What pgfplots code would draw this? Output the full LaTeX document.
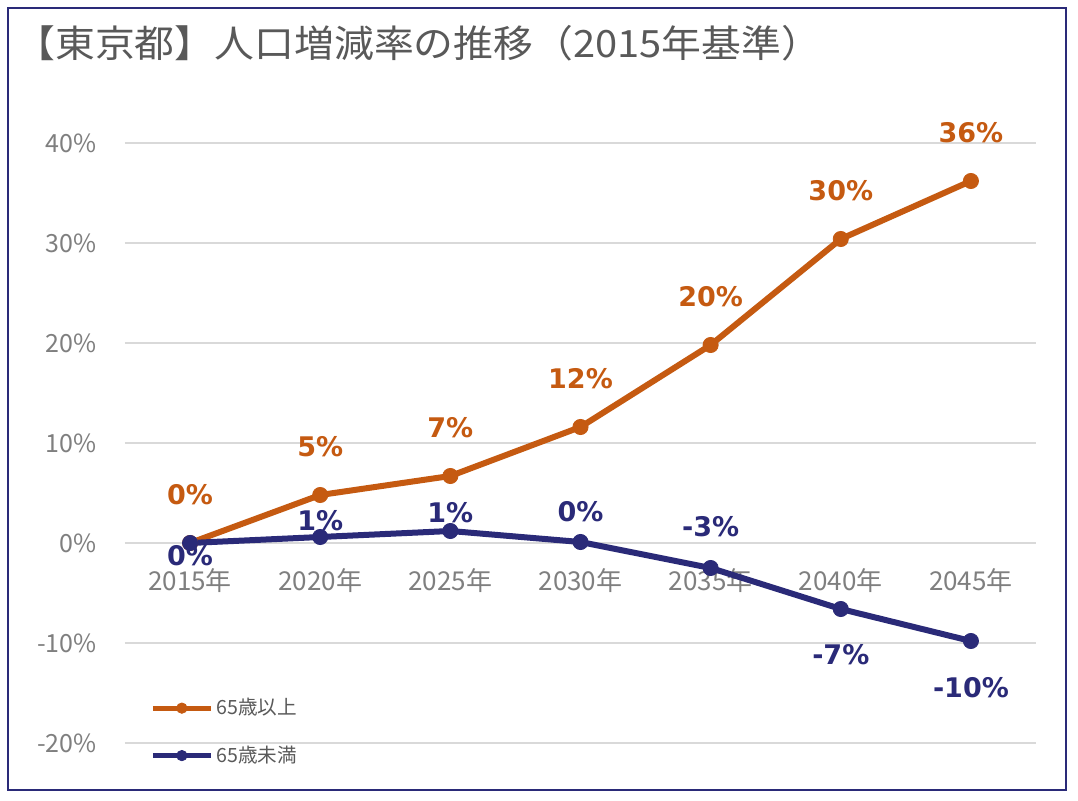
\documentclass[border=0pt]{standalone}
\usepackage{fontspec}
\usepackage{pgfplots}
\pgfplotsset{compat=1.18}
\usepackage{pgfplotstable}
\newfontfamily\jp{Noto Sans CJK JP}
\newfontfamily\dv{DejaVu Sans}
\definecolor{orng}{HTML}{C55A11}
\definecolor{navy}{HTML}{2A2A78}
\definecolor{tickgray}{HTML}{7F7F7F}
\definecolor{titlegray}{HTML}{595959}
\definecolor{gridgray}{HTML}{D9D9D9}

\pgfplotstableread{
x y dy lab
0 0 24 0
1 4.8 24 5
2 6.7 24 7
3 11.6 24 12
4 19.8 24 20
5 30.4 24 30
6 36.2 24 36
}\olderdata

\pgfplotstableread{
x y dy lab
0 0 -6.5 0
1 0.6 8 1
2 1.2 9 1
3 0.1 15 0
4 -2.5 20.5 -3
5 -6.6 -23 -7
6 -9.8 -23.5 -10
}\youngerdata

\begin{document}
\begin{tikzpicture}[x=1pt,y=1pt]
\useasboundingbox (-62.5,-28.5) rectangle (476.5,371.5);
\draw[navy, line width=1pt] (-58.5,-23.5) rectangle (470.5,367.5);
\node[anchor=west, font=\jp\fontsize{18.8}{22}\selectfont, text=titlegray, inner sep=0pt, xscale=1.06] at (-55,350) {【東京都】人口増減率の推移（2015年基準）};
\begin{axis}[
  at={(0,0)}, anchor=south west,
  scale only axis, width=455.5pt, height=300pt,
  xmin=-0.5, xmax=6.5, ymin=-20, ymax=40,
  axis x line*=middle, axis y line*=left,
  axis line style={draw=none},
  major tick length=0pt,
  ymajorgrids, grid style={gridgray, line width=1pt},
  ytick={-20,-10,0,10,20,30,40},
  yticklabels={-20\%,-10\%,0\%,10\%,20\%,30\%,40\%},
  yticklabel style={font=\jp\fontsize{12.5}{14}\selectfont, text=tickgray, anchor=east, inner sep=0pt, xshift=-14pt},
  xtick={0,1,2,3,4,5,6},
  xticklabels={2015年,2020年,2025年,2030年,2035年,2040年,2045年},
  xticklabel style={font=\jp\fontsize{13}{15}\selectfont, text=tickgray, anchor=center, inner sep=0pt, yshift=-19pt},
  clip=false,
  legend cell align=left,
  legend style={at={(0.0274,0.08)}, anchor=north west, draw=none, fill=none,
    font=\jp\fontsize{9.8}{11}\selectfont, text=titlegray, row sep=11pt, inner sep=0pt,
    nodes={inner sep=1.5pt}},
  legend image code/.code={\draw[#1, line width=2.5pt, mark size=2.6pt, mark repeat=2, mark phase=2] plot coordinates {(0pt,0pt) (14.5pt,0pt) (29pt,0pt)};},
  nodes near coords={\pgfplotspointmeta\%},
  point meta=explicit symbolic,
  visualization depends on={\thisrow{dy} \as \dy},
]
\addplot[orng, line width=3pt, mark=*, mark size=3.8pt, mark options={line width=0.4pt},
  every node near coord/.append style={font=\dv\bfseries\fontsize{13.5}{15}\selectfont, text=orng, anchor=center, yshift=\dy pt}]
  table[x=x, y=y, meta=lab]{\olderdata};
\addlegendentry{65歳以上}
\addplot[navy, line width=3pt, mark=*, mark size=3.8pt, mark options={line width=0.4pt},
  every node near coord/.append style={font=\dv\bfseries\fontsize{13.5}{15}\selectfont, text=navy, anchor=center, yshift=\dy pt}]
  table[x=x, y=y, meta=lab]{\youngerdata};
\addlegendentry{65歳未満}
\end{axis}
\end{tikzpicture}
\end{document}
